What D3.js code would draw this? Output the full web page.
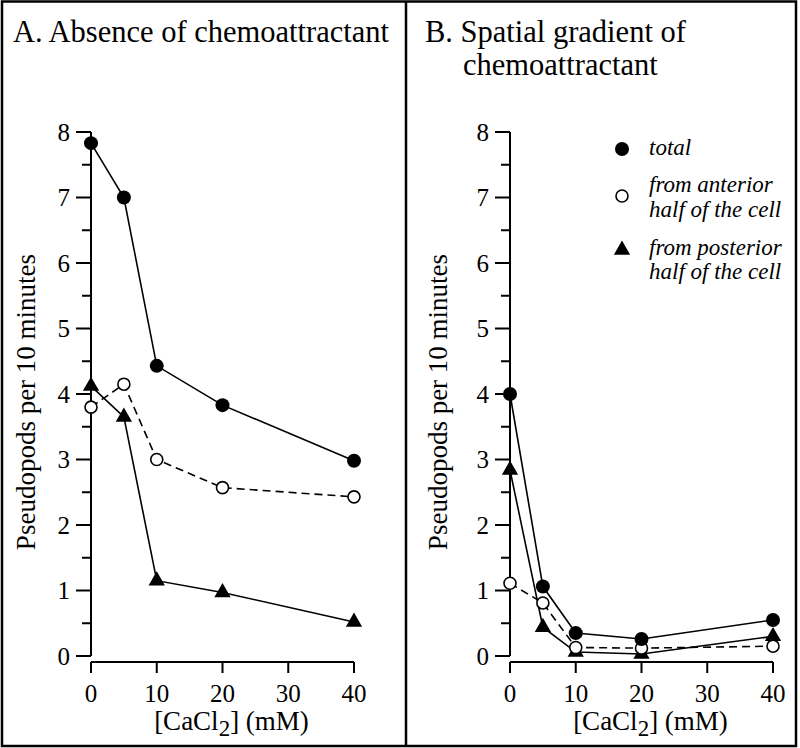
<!DOCTYPE html>
<html>
<head>
<meta charset="utf-8">
<script src="https://cdn.jsdelivr.net/npm/d3@7"></script>
<style>
  html, body { margin: 0; padding: 0; background: #fff; }
  svg { display: block; }
  text { font-family: "Liberation Serif", "Times New Roman", serif; fill: #000; }
</style>
</head>
<body>
<svg id="chart" width="800" height="748"></svg>
<script>
// ---- data ----
const concentrations = [0, 5, 10, 20, 40];
const xTicks = [0, 10, 20, 30, 40];
const yTicks = [0, 1, 2, 3, 4, 5, 6, 7, 8];

const absenceTotal     = [7.83, 7.0, 4.43, 3.83, 2.98];
const absenceAnterior  = [3.80, 4.15, 3.0, 2.57, 2.43];
const absencePosterior = [4.12, 3.65, 1.15, 0.97, 0.52];

const gradientTotal     = [4.0, 1.06, 0.35, 0.26, 0.55];
const gradientAnterior  = [1.11, 0.81, 0.13, 0.12, 0.15];
const gradientPosterior = [2.84, 0.44, 0.06, 0.03, 0.30];

const titleA = ["A. Absence of chemoattractant"];
const titleB = ["B. Spatial gradient of", "chemoattractant"];
const yLabel = "Pseudopods per 10 minutes";
const legendItems = [
  { type: "total", lines: ["total"] },
  { type: "anterior", lines: ["from anterior", "half of the cell"] },
  { type: "posterior", lines: ["from posterior", "half of the cell"] }
];

// ---- drawing ----
const svg = d3.select("#chart");

// outer frame and divider
svg.append("rect").attr("x", 2).attr("y", 1.5).attr("width", 794).attr("height", 744.5)
  .attr("fill", "none").attr("stroke", "#000").attr("stroke-width", 2.5);
svg.append("line").attr("x1", 406).attr("x2", 406).attr("y1", 1).attr("y2", 747)
  .attr("stroke", "#000").attr("stroke-width", 2.5);

function drawPanel(opts) {
  const g = svg.append("g");
  const x = d3.scaleLinear().domain([0, 40]).range([opts.x0, opts.x0 + 263]);
  const y = d3.scaleLinear().domain([0, 8]).range([656, 132]);

  // y axis line
  g.append("line").attr("x1", opts.x0).attr("x2", opts.x0)
    .attr("y1", y(8)).attr("y2", y(0)).attr("stroke", "#000").attr("stroke-width", 2);
  // y ticks (major + minor)
  const ySub = d3.range(0, 8.01, 0.5);
  g.selectAll(".yt").data(ySub).join("line")
    .attr("x1", d => opts.x0 - (Number.isInteger(d) ? 15 : 9))
    .attr("x2", opts.x0)
    .attr("y1", d => y(d)).attr("y2", d => y(d))
    .attr("stroke", "#000").attr("stroke-width", 2);
  g.selectAll(".yl").data(yTicks).join("text")
    .attr("x", opts.x0 - 21).attr("y", d => y(d) + 8.5)
    .attr("text-anchor", "end").attr("font-size", 25).text(d => d);

  // x axis (offset below)
  const xa = 662;
  g.append("line").attr("x1", x(0)).attr("x2", x(40))
    .attr("y1", xa).attr("y2", xa).attr("stroke", "#000").attr("stroke-width", 2);
  g.selectAll(".xt").data(xTicks).join("line")
    .attr("x1", d => x(d)).attr("x2", d => x(d))
    .attr("y1", xa).attr("y2", xa + 11)
    .attr("stroke", "#000").attr("stroke-width", 2);
  g.selectAll(".xl").data(xTicks).join("text")
    .attr("x", d => x(d)).attr("y", 702)
    .attr("text-anchor", "middle").attr("font-size", 25).text(d => d);

  // x label
  const xl = g.append("text").attr("x", x(20) + 9).attr("y", 730)
    .attr("text-anchor", "middle").attr("font-size", 27);
  xl.append("tspan").text("[CaCl");
  xl.append("tspan").attr("dy", 6).attr("font-size", 23).text("2");
  xl.append("tspan").attr("dy", -6).text("] (mM)");

  // y label
  g.append("text")
    .attr("transform", `translate(${opts.yLabelX},402) rotate(-90)`)
    .attr("text-anchor", "middle").attr("font-size", 27).text(yLabel);

  // title
  g.selectAll(".title").data(opts.title).join("text")
    .attr("x", (d, i) => i === 0 ? opts.titleX : opts.titleX2)
    .attr("y", (d, i) => 42 + i * 33)
    .attr("font-size", 30.5).text(d => d);

  const pts = vals => vals.map((v, i) => [x(concentrations[i]), y(v)]);
  const line = d3.line();

  // lines
  g.append("path").attr("d", line(pts(opts.anterior))).attr("fill", "none")
    .attr("stroke", "#000").attr("stroke-width", 1.6).attr("stroke-dasharray", "8,5");
  g.append("path").attr("d", line(pts(opts.posterior))).attr("fill", "none")
    .attr("stroke", "#000").attr("stroke-width", 1.6);
  g.append("path").attr("d", line(pts(opts.total))).attr("fill", "none")
    .attr("stroke", "#000").attr("stroke-width", 1.6);

  // markers
  const tri = d3.symbol().type(d3.symbolTriangle).size(115);
  g.selectAll(".tri").data(pts(opts.posterior)).join("path")
    .attr("d", tri).attr("transform", d => `translate(${d[0]},${d[1]})`).attr("fill", "#000");
  g.selectAll(".oc").data(pts(opts.anterior)).join("circle")
    .attr("cx", d => d[0]).attr("cy", d => d[1]).attr("r", 6)
    .attr("fill", "#fff").attr("stroke", "#000").attr("stroke-width", 1.6);
  g.selectAll(".fc").data(pts(opts.total)).join("circle")
    .attr("cx", d => d[0]).attr("cy", d => d[1]).attr("r", 7).attr("fill", "#000");
}

drawPanel({ x0: 91, yLabelX: 35, title: titleA, titleX: 13, titleX2: 13,
  total: absenceTotal, anterior: absenceAnterior, posterior: absencePosterior });
drawPanel({ x0: 510, yLabelX: 447, title: titleB, titleX: 425, titleX2: 463,
  total: gradientTotal, anterior: gradientAnterior, posterior: gradientPosterior });

// legend
const legend = svg.append("g");
const legendY = [149, 196, 250];
const textBase = [[155], [192, 217], [255, 279]];
legendItems.forEach((item, i) => {
  const cy = legendY[i];
  if (item.type === "total") {
    legend.append("circle").attr("cx", 622).attr("cy", cy).attr("r", 7).attr("fill", "#000");
  } else if (item.type === "anterior") {
    legend.append("circle").attr("cx", 622).attr("cy", cy).attr("r", 6)
      .attr("fill", "#fff").attr("stroke", "#000").attr("stroke-width", 1.6);
  } else {
    legend.append("path").attr("d", d3.symbol().type(d3.symbolTriangle).size(115))
      .attr("transform", `translate(622,${cy})`).attr("fill", "#000");
  }
  item.lines.forEach((t, j) => {
    legend.append("text").attr("x", 649).attr("y", textBase[i][j])
      .attr("font-size", 23).attr("font-style", "italic").text(t);
  });
});
</script>
</body>
</html>
